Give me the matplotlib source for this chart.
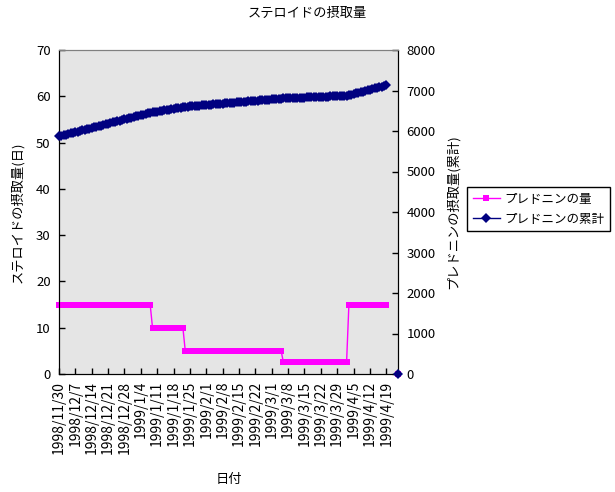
import numpy as np
import matplotlib
matplotlib.use("Agg")
import matplotlib.pyplot as plt
from matplotlib.lines import Line2D

plt.rcParams['font.family'] = ['Noto Sans CJK JP', 'DejaVu Sans']
plt.rcParams['font.size'] = 9.5

# daily dose of prednisolone: (level, number of days)
dose_levels = [15, 10, 5, 2.5, 15]
dose_days = [40, 14, 42, 28, 17]
blank_days = 4          # empty cells before the last row
last_dose = 0           # last row of the sheet
cum_before = 5850       # cumulative total before 1998/11/30
last_cum = 0

tick_labels = ["1998/11/30", "1998/12/7", "1998/12/14", "1998/12/21", "1998/12/28",
               "1999/1/4", "1999/1/11", "1999/1/18", "1999/1/25", "1999/2/1",
               "1999/2/8", "1999/2/15", "1999/2/22", "1999/3/1", "1999/3/8",
               "1999/3/15", "1999/3/22", "1999/3/29", "1999/4/5", "1999/4/12",
               "1999/4/19"]

daily = np.repeat(dose_levels, dose_days).astype(float)
cum = cum_before + np.cumsum(daily)
n = len(daily) + blank_days + 1
dose = np.full(n, np.nan)
total = np.full(n, np.nan)
dose[:len(daily)] = daily
total[:len(daily)] = cum
dose[-1] = last_dose
total[-1] = last_cum
days = np.arange(n)

fig = plt.figure(figsize=(6.15, 4.92), dpi=100)
ax1 = fig.add_axes([59 / 615, 118 / 492, 339 / 615, 324 / 492])
ax1.set_facecolor('#E5E5E5')
ax2 = ax1.twinx()

ax1.plot(days, dose, color='#FF00FF', lw=1, marker='s', ms=4, mew=0,
         clip_on=False, zorder=3)
ax2.plot(days, total, color='#000080', lw=1, marker='D', ms=5, mew=0,
         clip_on=False, zorder=3)

ax1.set_xlim(0, n - 1)
ax1.set_ylim(0, 70)
ax2.set_ylim(0, 8000)
ax1.set_yticks(np.arange(0, 71, 10))
ax2.set_yticks(np.arange(0, 8001, 1000))
ax1.set_xticks(np.arange(0, 7 * len(tick_labels), 7))
ax1.set_xticklabels(tick_labels, rotation=90, va='top', ha='center', fontsize=10)

for ax in (ax1, ax2):
    ax.tick_params(direction='in', length=4, width=1, colors='black', pad=3)
    ax.spines['top'].set_color('#808080')
    for s in ('left', 'right', 'bottom'):
        ax.spines[s].set_color('black')
ax1.tick_params(axis='x', pad=5)
ax1.tick_params(axis='y', pad=6)
ax2.tick_params(axis='y', pad=6)

ax1.set_ylabel('ステロイドの摂取量(日)')
ax1.yaxis.set_label_coords(-0.103, 0.5)
ax2.set_ylabel('プレドニンの摂取量(累計)', rotation=90)
ax2.yaxis.set_label_coords(1.142, 0.5)
ax1.set_xlabel('日付')
ax1.xaxis.set_label_coords(0.5, -0.307)

fig.text(0.5, 1 - 13 / 492, 'ステロイドの摂取量', ha='center', va='center')

handles = [Line2D([], [], color='#FF00FF', lw=1, marker='s', ms=4, mew=0),
           Line2D([], [], color='#000080', lw=1, marker='D', ms=5, mew=0)]
leg = fig.legend(handles, ['プレドニンの量', 'プレドニンの累計'],
                 loc='upper left', bbox_to_anchor=(467 / 615, 1 - 187 / 492),
                 fancybox=False, edgecolor='black', framealpha=1,
                 fontsize=9, handlelength=2.2, handletextpad=0.3,
                 borderpad=0.45, labelspacing=0.55, borderaxespad=0)
leg.get_frame().set_linewidth(1)

fig.savefig('out.png', dpi=100)
